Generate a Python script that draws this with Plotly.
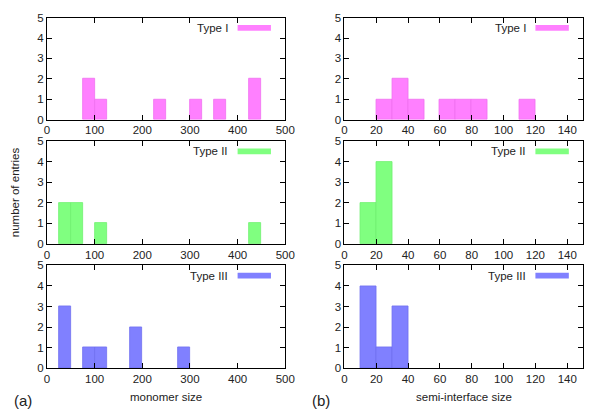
import plotly.graph_objects as go

W, H = 600, 419

types = ["Type I", "Type II", "Type III"]
colors = ["#ff80ff", "#80ff80", "#8080ff"]
edge_colors = ["#f070f0", "#70f070", "#7070f0"]

# monomer size histograms (bin start, count), bin width 25
mono_bin = 25
mono_start = [
    [75, 100, 225, 300, 350, 425],
    [25, 50, 100, 425],
    [25, 75, 100, 175, 275],
]
mono_count = [
    [2, 1, 1, 1, 1, 2],
    [2, 2, 1, 1],
    [3, 1, 1, 2, 1],
]

# semi-interface size histograms, bin width 10
iface_bin = 10
iface_start = [
    [20, 30, 40, 60, 70, 80, 110],
    [10, 20],
    [10, 20, 30],
]
iface_count = [
    [1, 2, 1, 1, 1, 1, 1],
    [2, 4],
    [4, 1, 3],
]

# panel geometry in pixels (left, right) and (top, bottom)
col_px = [(45, 288.5), (349, 593)]
row_px = [(12, 117), (139, 245), (267, 373)]

font = "Liberation Sans, Arial, Helvetica, sans-serif"

fig = go.Figure()
layout = {}
shapes = []
annotations = []

for r in range(3):
    for c in range(2):
        k = r * 2 + c + 1
        sfx = "" if k == 1 else str(k)
        xa, ya = "x" + sfx, "y" + sfx
        if c == 0:
            xs, ys, bw, xr, dt = mono_start[r], mono_count[r], mono_bin, [0, 500], 100
        else:
            xs, ys, bw, xr, dt = iface_start[r], iface_count[r], iface_bin, [0, 150], 20

        fig.add_trace(go.Bar(
            x=xs, y=ys, width=bw, offset=0,
            marker=dict(color=colors[r], line=dict(color=edge_colors[r], width=0.8)),
            xaxis=xa, yaxis=ya, showlegend=False
        ))

        x0, x1 = col_px[c]
        y0, y1 = row_px[r]
        axis_common = dict(
            showline=True, linecolor="black", linewidth=1, mirror="ticks",
            ticks="inside", ticklen=5, tickcolor="black", tickwidth=1,
            showgrid=False, zeroline=False,
            tickfont=dict(family=font, size=11.5, color="#222"),
        )
        layout["xaxis" + sfx] = dict(
            axis_common, domain=[x0 / W, x1 / W], range=xr, dtick=dt, tick0=0,
            anchor=ya,
        )
        layout["yaxis" + sfx] = dict(
            axis_common, domain=[1 - y1 / H, 1 - y0 / H], range=[0, 5], dtick=1,
            anchor=xa,
        )

        # gnuplot-style key: label then sample box
        shapes.append(dict(
            type="rect", xref=xa + " domain", yref=ya + " domain",
            x0=0.80, x1=0.94, y0=0.872, y1=0.928,
            fillcolor=colors[r], line=dict(width=0),
        ))
        annotations.append(dict(
            text=types[r], xref=xa + " domain", yref=ya + " domain",
            x=0.77, y=0.90, xanchor="right", yanchor="middle", showarrow=False,
            font=dict(family=font, size=11.5, color="#222"),
        ))

annotations += [
    dict(text="number of entries", x=12 / W, y=1 - 192 / H, textangle=-90),
    dict(text="monomer size", x=167 / W, y=1 - 403 / H),
    dict(text="semi-interface size", x=471 / W, y=1 - 403 / H),
    dict(text="(a)", x=20 / W, y=1 - 406 / H, font=dict(family=font, size=15, color="#222")),
    dict(text="(b)", x=325 / W, y=1 - 406 / H, font=dict(family=font, size=15, color="#222")),
]
for a in annotations[-5:]:
    a.update(xref="paper", yref="paper", showarrow=False, xanchor="center", yanchor="middle")
    a.setdefault("font", dict(family=font, size=11.5, color="#222"))

fig.update_layout(
    width=W, height=H,
    margin=dict(l=0, r=0, t=0, b=0),
    paper_bgcolor="white", plot_bgcolor="white",
    bargap=0, showlegend=False,
    shapes=shapes, annotations=annotations,
    **layout
)

fig.write_html(
    "out.html",
    config={"displayModeBar": False},
    post_script="document.body.style.margin='0';"
                "document.documentElement.style.overflow='hidden';",
)
